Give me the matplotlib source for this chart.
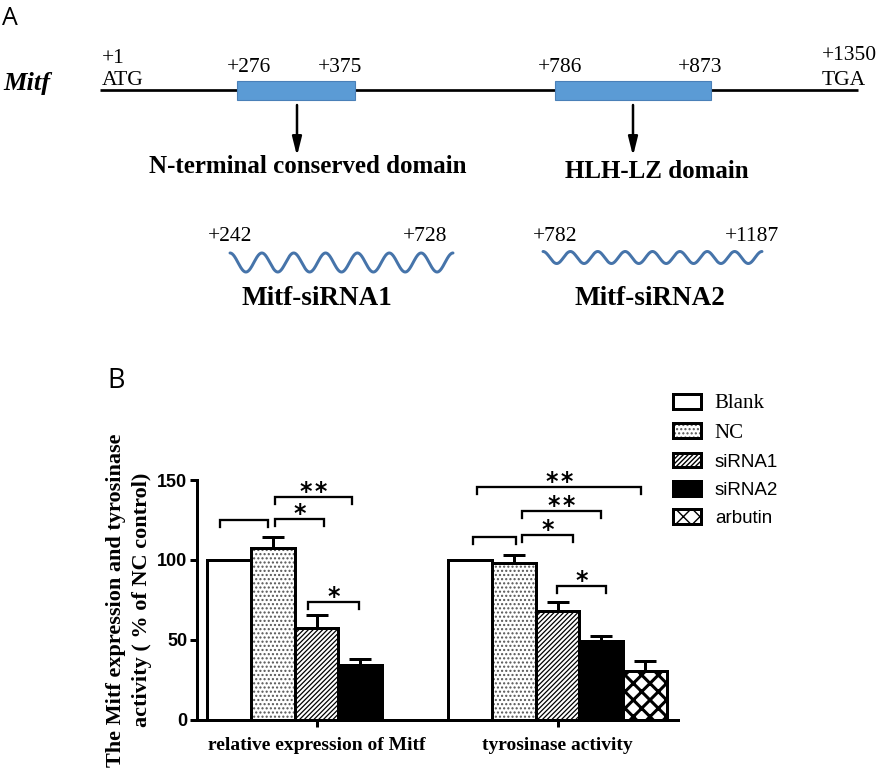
import matplotlib
matplotlib.use("Agg")
import matplotlib.pyplot as plt
import numpy as np
from matplotlib.patches import Rectangle, Patch
from matplotlib.legend_handler import HandlerTuple

# ---------------- data ----------------
gene_name = "Mitf"
start_labels = ["+1", "ATG"]
end_labels = ["+1350", "TGA"]
domain_starts = ["+276", "+786"]
domain_ends = ["+375", "+873"]
domain_names = ["N-terminal conserved domain", "HLH-LZ domain"]
sirna_starts = ["+242", "+782"]
sirna_ends = ["+728", "+1187"]
sirna_names = ["Mitf-siRNA1", "Mitf-siRNA2"]

groups = ["relative expression of Mitf", "tyrosinase activity"]
treatments = ["Blank", "NC", "siRNA1", "siRNA2", "arbutin"]
mitf_mean = [100, 107.3, 57.7, 34.4]
mitf_sem = [0, 7.3, 7.9, 3.7]
tyr_mean = [100, 97.9, 68.3, 49.6, 30.6]
tyr_sem = [0, 5.2, 5.7, 3.1, 6.5]
yticks = [0, 50, 100, 150]

# significance brackets (x in bar-slot units, y in % units)
sig_x1 = [-0.2, 1.06, 1.06, 1.81, 5.67, 6.70, 6.70, 5.58, 7.48]
sig_x2 = [0.9, 2.18, 2.82, 2.96, 9.41, 8.49, 7.86, 6.55, 8.61]
sig_y = [125.0, 125.6, 139.6, 74.0, 145.8, 130.6, 115.6, 114.6, 83.9]
sig_label = ["", "*", "**", "*", "**", "**", "*", "", "*"]

# ---------------- style ----------------
SERIF = "Liberation Serif"
SANS = "Liberation Sans"
PX = 72 / 100.0  # points per pixel at dpi 100

fig = plt.figure(figsize=(8.8, 7.73), dpi=100)

# ---------- Panel A (schematic, pixel layout) ----------
ax0 = fig.add_axes([0, 0, 1, 1])
ax0.set_xlim(0, 880)
ax0.set_ylim(773, 0)
ax0.axis("off")

ax0.text(2, 25, "A", fontsize=18, family="Open Sans", va="baseline")
ax0.text(107, 388, "B", fontsize=19.5, family="Open Sans", va="baseline")

ax0.text(3, 90, gene_name, fontsize=19, family=SERIF, fontweight="bold",
         fontstyle="italic", va="baseline")
ax0.plot([100, 858], [90, 90], color="black", lw=2.7 * PX, solid_capstyle="butt")

num_fs = 15.5
ax0.text(102, 63, start_labels[0], fontsize=num_fs, family=SERIF, va="baseline")
ax0.text(102, 85, start_labels[1], fontsize=num_fs, family=SERIF, va="baseline")
ax0.text(822, 60, end_labels[0], fontsize=num_fs, family=SERIF, va="baseline")
ax0.text(822, 85, end_labels[1], fontsize=num_fs, family=SERIF, va="baseline")

box_x = [(237, 355), (555, 711)]
start_cx = [248.5, 560]
end_cx = [340.5, 700.5]
arrow_x = [297, 633]
name_cx = [307.5, 656.5]
name_base = [173, 178]
for i in range(2):
    x0, x1 = box_x[i]
    ax0.add_patch(Rectangle((x0, 81), x1 - x0, 19, facecolor="#5B9BD5",
                            edgecolor="#4A80B8", lw=0.8, zorder=3))
    ax0.text(start_cx[i], 72, domain_starts[i], fontsize=num_fs, family=SERIF,
             ha="center", va="baseline")
    ax0.text(end_cx[i], 72, domain_ends[i], fontsize=num_fs, family=SERIF,
             ha="center", va="baseline")
    ax0.annotate("", xy=(arrow_x[i], 156), xytext=(arrow_x[i], 105),
                 arrowprops=dict(arrowstyle="-|>,head_length=0.8,head_width=0.2",
                                 color="black", lw=1.8, mutation_scale=14,
                                 shrinkA=0, shrinkB=0))
    ax0.text(name_cx[i], name_base[i], domain_names[i], fontsize=18, family=SERIF,
             fontweight="bold", ha="center", va="baseline")

wave_x = [(230, 453), (543, 762)]
wave_yc = [262.5, 257.5]
wave_amp = [9.5, 6.0]
wave_n = [7, 8]
sl_cx = [230, 555.5]
el_cx = [425.5, 751.5]
sn_cx = [317, 650]
for i in range(2):
    x0, x1 = wave_x[i]
    xs = np.linspace(x0, x1, 600)
    ys = wave_yc[i] - wave_amp[i] * np.cos(2 * np.pi * wave_n[i] * (xs - x0) / (x1 - x0))
    ax0.plot(xs, ys, color="#4674AA", lw=3.0 * PX, solid_capstyle="round")
    ax0.text(sl_cx[i], 241, sirna_starts[i], fontsize=num_fs, family=SERIF,
             ha="center", va="baseline")
    ax0.text(el_cx[i], 241, sirna_ends[i], fontsize=num_fs, family=SERIF,
             ha="center", va="baseline")
    ax0.text(sn_cx[i], 305, sirna_names[i], fontsize=19.5, family=SERIF,
             fontweight="bold", ha="center", va="baseline")

# ---------- Panel B (bar chart) ----------
W, H = 880, 773
ax = fig.add_axes([197 / W, (H - 720) / H, (678 - 197) / W, 240 / H])
ax.set_xlim(-0.728, 10.25)
ax.set_ylim(0, 150)

bar_face = ["white", "white", "white", "black", "white"]
bar_hatch = [None, "....", "///////", None, "xx"]
hatch_col = ["black", "#555555", "black", "black", "black"]
hatch_lw = [1.0, 1.0, 0.9, 1.0, 2.2]
edge_lw = 3.0 * PX

group_offsets = [0.0, 5.5]
group_means = [mitf_mean, tyr_mean]
group_sems = [mitf_sem, tyr_sem]


def make_patch_kwargs(i):
    return dict(facecolor=bar_face[i], edgecolor=hatch_col[i],
                hatch=bar_hatch[i], linewidth=0)


for g in range(2):
    means = group_means[g]
    sems = group_sems[g]
    for i, m in enumerate(means):
        x = group_offsets[g] + i
        with plt.rc_context({"hatch.linewidth": hatch_lw[i]}):
            b = ax.bar(x, m, width=1.0, zorder=2, **make_patch_kwargs(i))
        for p in b:
            if hasattr(p, "set_hatch_linewidth"):
                p.set_hatch_linewidth(hatch_lw[i])
        ax.bar(x, m, width=1.0, fill=False, edgecolor="black",
               linewidth=edge_lw, zorder=3)
    xs = [group_offsets[g] + i for i in range(len(means))]
    ax.errorbar(xs, means, yerr=[np.zeros(len(sems)), sems], fmt="none",
                ecolor="black", elinewidth=edge_lw, capsize=8, capthick=edge_lw,
                zorder=4)

drop = 4.4
for x1, x2, y, lab in zip(sig_x1, sig_x2, sig_y, sig_label):
    ax.plot([x1, x1, x2, x2], [y - drop, y, y, y - drop], color="black",
            lw=2.3 * PX, clip_on=False, solid_joinstyle="miter", zorder=5)
    if lab:
        ax.text((x1 + x2) / 2, y - 1.2, "\u200a".join(lab), ha="center",
                va="baseline", fontsize=17, fontweight="bold",
                family="DejaVu Sans", clip_on=False)

for s in ["top", "right"]:
    ax.spines[s].set_visible(False)
for s in ["left", "bottom"]:
    ax.spines[s].set_linewidth(edge_lw)
ax.set_yticks(yticks)
ax.set_yticklabels([str(t) for t in yticks], fontsize=13, fontweight="bold",
                   family=SANS)
ax.set_xticks([group_offsets[0] + 2.0, group_offsets[1] + 2.0])
ax.set_xticklabels(groups, fontsize=14, fontweight="bold", family=SERIF)
ax.tick_params(axis="y", direction="out", length=5, width=edge_lw, pad=2)
ax.tick_params(axis="x", direction="out", length=5, width=edge_lw, pad=7)

fig.text(129 / W, 1 - 600 / H,
         "The Mitf expression and tyrosinase\nactivity ( % of NC control)",
         rotation=90, ha="center", va="center", fontsize=16, fontweight="bold",
         family=SERIF, linespacing=1.42, multialignment="center")

# legend
handles = []
for i in range(len(treatments)):
    hp = Patch(**make_patch_kwargs(i))
    if hasattr(hp, "set_hatch_linewidth"):
        hp.set_hatch_linewidth(hatch_lw[i])
    bp = Patch(fill=False, edgecolor="black", linewidth=edge_lw)
    handles.append((hp, bp))
leg = fig.legend(handles, treatments, loc="upper left",
                 bbox_to_anchor=(673 / W, 1 - 394 / H), frameon=False,
                 fontsize=14, handlelength=1.45, handleheight=0.8,
                 handletextpad=0.7, labelspacing=0.52, borderpad=0,
                 borderaxespad=0,
                 handler_map={tuple: HandlerTuple(ndivide=1)})
for i, t in enumerate(leg.get_texts()):
    if i < 2:
        t.set_fontfamily(SERIF)
        t.set_fontsize(15)
    else:
        t.set_fontfamily(SANS)
        t.set_fontsize(13.5)

fig.savefig("out.png", dpi=100)
